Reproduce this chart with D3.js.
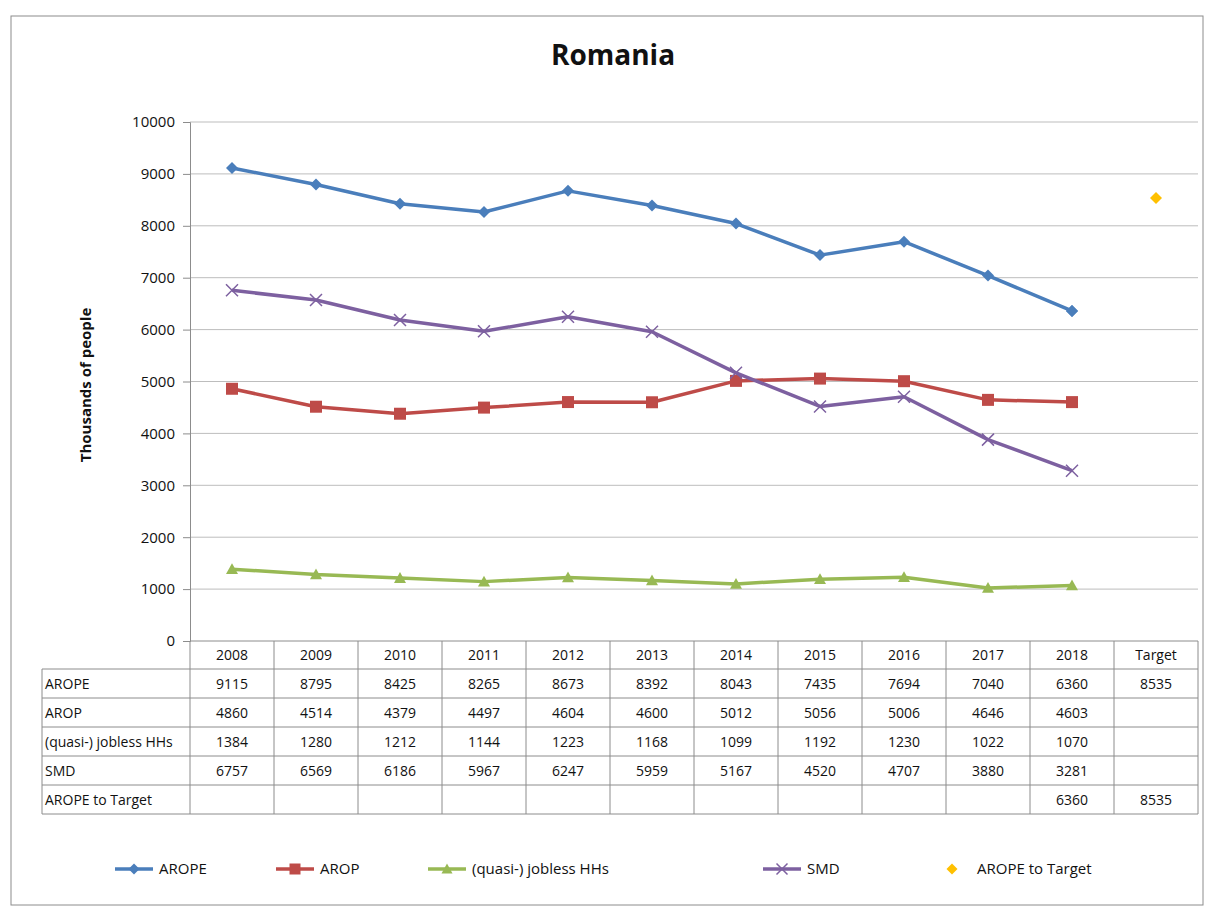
<!DOCTYPE html>
<html>
<head>
<meta charset="utf-8">
<script src="https://cdnjs.cloudflare.com/ajax/libs/d3/7.8.5/d3.min.js"></script>
<style>
body { margin:0; background:#fff; }
svg text { font-family: "Open Sans", "Noto Sans", sans-serif; fill:#111; }
</style>
</head>
<body>
<svg id="chart"></svg>
<script>
var categories = ["2008","2009","2010","2011","2012","2013","2014","2015","2016","2017","2018","Target"];
var arope = [9115,8795,8425,8265,8673,8392,8043,7435,7694,7040,6360,8535];
var arop = [4860,4514,4379,4497,4604,4600,5012,5056,5006,4646,4603,null];
var jobless = [1384,1280,1212,1144,1223,1168,1099,1192,1230,1022,1070,null];
var smd = [6757,6569,6186,5967,6247,5959,5167,4520,4707,3880,3281,null];
var aropeTarget = [null,null,null,null,null,null,null,null,null,null,6360,8535];
var yTicks = [0,1000,2000,3000,4000,5000,6000,7000,8000,9000,10000];

var series = [
    {name:"AROPE", values:arope, color:"#4a7ebb", marker:"diamond", line:true},
    {name:"AROP", values:arop, color:"#be4b48", marker:"square", line:true},
    {name:"(quasi-) jobless HHs", values:jobless, color:"#98b954", marker:"triangle", line:true},
    {name:"SMD", values:smd, color:"#7d60a0", marker:"x", line:true},
    {name:"AROPE to Target", values:aropeTarget, color:"#ffc000", marker:"diamond", line:false}
];

var screen = {width:1205,height:911};
var plot = {left:190,right:1198,top:122,bottom:641};
var rowH = 29;

var svg = d3.select("#chart")
    .attr("width",screen.width)
    .attr("height",screen.height);

// outer frame
svg.append("rect")
    .attr("x",11).attr("y",16)
    .attr("width",1192).attr("height",889)
    .attr("fill","none")
    .attr("stroke","#8c8c8c")
    .attr("stroke-width",1);

svg.append("text")
    .text("Romania")
    .attr("x",613).attr("y",65)
    .attr("text-anchor","middle")
    .style("font-size","28px")
    .style("font-weight","bold");

var xScale = d3.scaleBand()
    .domain(categories)
    .range([plot.left,plot.right]);

var yScale = d3.scaleLinear()
    .domain([0,10000])
    .range([plot.bottom,plot.top]);

var cx = function(i){return xScale(categories[i])+xScale.bandwidth()/2};

// gridlines
svg.append("g")
    .selectAll("line")
    .data(yTicks.slice(1))
    .enter()
    .append("line")
    .attr("x1",plot.left).attr("x2",plot.right)
    .attr("y1",function(d){return yScale(d)})
    .attr("y2",function(d){return yScale(d)})
    .attr("stroke","#bdbdbd")
    .attr("stroke-width",1);

var yAxis = d3.axisLeft(yScale)
    .tickValues(yTicks)
    .tickFormat(d3.format("d"))
    .tickSize(7)
    .tickPadding(8);

var yg = svg.append("g")
    .attr("transform","translate("+plot.left+",0)")
    .call(yAxis);
yg.select(".domain").attr("stroke","#8c8c8c");
yg.selectAll(".tick line").attr("stroke","#8c8c8c");
yg.selectAll(".tick text")
    .style("font-size","15px")
    .style("font-family","'Open Sans', sans-serif")
    .attr("fill","#111");

svg.append("text")
    .text("Thousands  of people")
    .attr("transform","translate(91,385) rotate(-90)")
    .attr("text-anchor","middle")
    .style("font-size","15px")
    .style("font-weight","bold");

// lines (years only, the Target column carries just the target marker)
var lineGenerator = d3.line()
    .defined(function(d,i){return d!=null && categories[i]!="Target"})
    .x(function(d,i){return cx(i)})
    .y(function(d){return yScale(d)});

var markerPath = function(type,size)
{
    var h = size/2;
    if(type=="diamond") return "M0,"+(-h)+"L"+h+",0L0,"+h+"L"+(-h)+",0Z";
    if(type=="square") return "M"+(-h)+","+(-h)+"h"+size+"v"+size+"h"+(-size)+"Z";
    if(type=="triangle") return "M0,"+(-h)+"L"+h+","+(h*0.8)+"L"+(-h)+","+(h*0.8)+"Z";
    return "M"+(-h)+","+(-h)+"L"+h+","+h+"M"+(-h)+","+h+"L"+h+","+(-h);
}

series.forEach(function(s)
{
    var g = svg.append("g");
    var pts = s.values.map(function(v,i){return {v:v,i:i}})
        .filter(function(d){return d.v!=null && (!s.line || categories[d.i]!="Target")});
    if(s.line)
    {
        g.append("path")
            .datum(s.values)
            .attr("d",lineGenerator)
            .attr("fill","none")
            .attr("stroke",s.color)
            .attr("stroke-width",3.5)
            .attr("stroke-linejoin","round");
    }
    var sz = s.marker=="x" ? 12 : 12;
    g.selectAll(".pt")
        .data(pts)
        .enter()
        .append("path")
        .attr("transform",function(d){return "translate("+cx(d.i)+","+yScale(d.v)+")"})
        .attr("d",markerPath(s.marker,sz))
        .attr("fill",function(d){return (!s.line && categories[d.i]!="Target") ? "#4a7ebb" : (s.marker=="x" ? "none" : s.color)})
        .attr("stroke",s.marker=="x" ? s.color : "none")
        .attr("stroke-width",1.5);
});

// data table
var table = svg.append("g").attr("stroke","#8c8c8c").attr("fill","none");
var tableLeft = 42;
var headerTop = plot.bottom;
var bodyTop = headerTop + 28;
var bodyBottom = bodyTop + rowH*series.length;

table.append("line")
    .attr("x1",plot.left).attr("x2",plot.right)
    .attr("y1",headerTop).attr("y2",headerTop);
categories.forEach(function(c)
{
    table.append("line")
        .attr("x1",xScale(c)).attr("x2",xScale(c))
        .attr("y1",headerTop).attr("y2",bodyBottom);
});
table.append("line")
    .attr("x1",plot.right).attr("x2",plot.right)
    .attr("y1",headerTop).attr("y2",bodyBottom);
table.append("line")
    .attr("x1",tableLeft).attr("x2",tableLeft)
    .attr("y1",bodyTop).attr("y2",bodyBottom);
for(var r=0;r<=series.length;r++)
{
    table.append("line")
        .attr("x1",tableLeft).attr("x2",plot.right)
        .attr("y1",bodyTop+r*rowH).attr("y2",bodyTop+r*rowH);
}

var tt = svg.append("g").style("font-size","14px");
categories.forEach(function(c,i)
{
    tt.append("text")
        .text(c)
        .attr("x",cx(i))
        .attr("y",headerTop+19)
        .attr("text-anchor","middle");
});
series.forEach(function(s,r)
{
    var y = bodyTop + r*rowH + 20;
    tt.append("text")
        .text(s.name)
        .attr("x",tableLeft+3)
        .attr("y",y);
    s.values.forEach(function(v,i)
    {
        if(v==null) return;
        tt.append("text")
            .text(v)
            .attr("x",cx(i))
            .attr("y",y)
            .attr("text-anchor","middle");
    });
});

// legend
var legendX = [115,276,428,763,940];
var legendY = 869;
series.forEach(function(s,i)
{
    var g = svg.append("g").attr("transform","translate("+legendX[i]+","+legendY+")");
    var textX;
    if(s.line)
    {
        g.append("line")
            .attr("x1",0).attr("x2",38)
            .attr("stroke",s.color)
            .attr("stroke-width",3.5);
        g.append("path")
            .attr("transform","translate(19,0)")
            .attr("d",markerPath(s.marker,11))
            .attr("fill",s.marker=="x" ? "none" : s.color)
            .attr("stroke",s.marker=="x" ? s.color : "none")
            .attr("stroke-width",1.5);
        textX = 44;
    }
    else
    {
        g.append("path")
            .attr("transform","translate(12,0)")
            .attr("d",markerPath(s.marker,11))
            .attr("fill",s.color);
        textX = 37;
    }
    g.append("text")
        .text(s.name)
        .attr("x",textX)
        .attr("y",5)
        .style("font-size","15px");
});
</script>
</body>
</html>
